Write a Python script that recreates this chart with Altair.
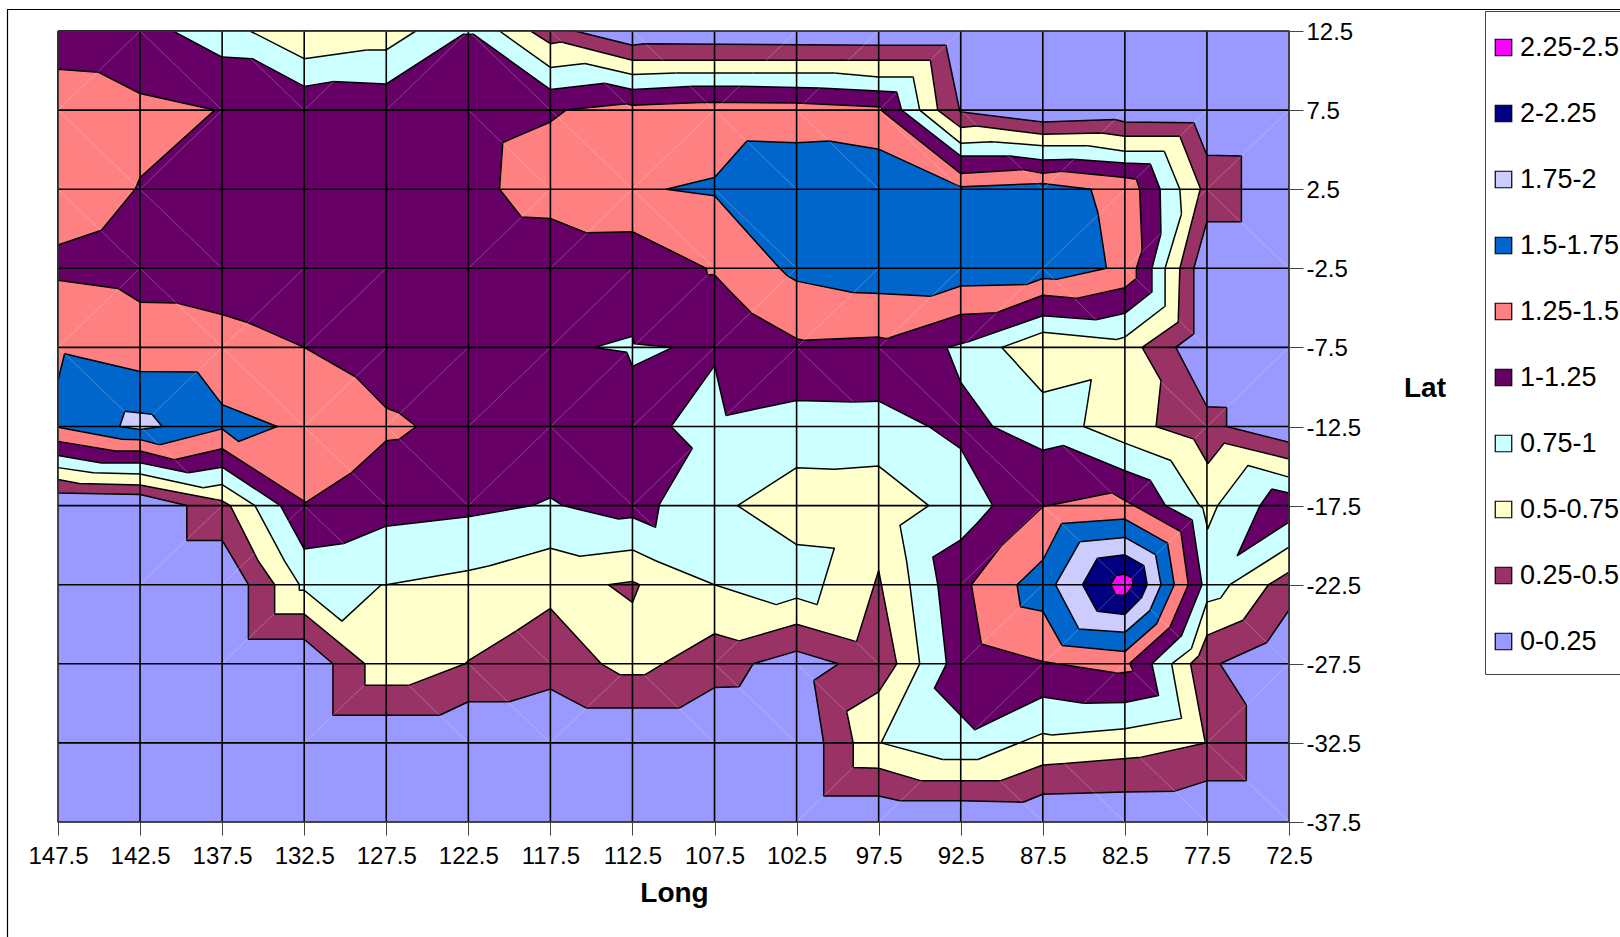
import altair as alt
import pandas as pd

# Contour bands of a gridded field over longitude / latitude, lower bands first.
BANDS = ["2.25-2.5", "2-2.25", "1.75-2", "1.5-1.75", "1.25-1.5", "1-1.25", "0.75-1", "0.5-0.75", "0.25-0.5", "0-0.25"]
BAND_COLOURS = ["#FF00FF", "#000080", "#CCCCFF", "#0066CC", "#FF8080", "#660066", "#CCFFFF", "#FFFFCC", "#993366", "#9999FF"]
LONG_TICKS = [147.5, 142.5, 137.5, 132.5, 127.5, 122.5, 117.5, 112.5, 107.5, 102.5, 97.5, 92.5, 87.5, 82.5, 77.5, 72.5]
LAT_TICKS = [12.5, 7.5, 2.5, -2.5, -7.5, -12.5, -17.5, -22.5, -27.5, -32.5, -37.5]

FULL_AREA = [(147.5, 12.5), (72.5, 12.5), (72.5, -37.5), (147.5, -37.5)]

ABOVE_025 = [(147.5, 12.5), (116.0, 12.5), (112.5, 11.6), (111.8, 11.7), (97.5, 11.6), (93.4, 11.6), (92.55, 7.4),
    (87.5, 6.75), (83.1, 6.9), (82.5, 6.75), (78.3, 6.7), (77.5, 4.65), (75.4, 4.6), (75.4, 0.45), (77.5, 0.45),
    (78.3, -2.5), (78.3, -6.65), (79.4, -7.5), (77.5, -11.25), (76.3, -11.3), (76.3, -12.5), (72.5, -13.5),
    (72.5, -24.1), (73.85, -26.15), (76.7, -27.5), (75.1, -30.1), (75.1, -34.9), (77.5, -34.9), (79.45, -35.55),
    (82.5, -35.6), (87.5, -35.75), (88.7, -36.25), (92.5, -36.15), (96.2, -36.15), (97.5, -35.85), (100.85, -35.85),
    (100.85, -32.5), (101.45, -28.55), (99.95, -27.5), (102.5, -26.7), (105.15, -27.5), (106.0, -28.95), (107.5, -29.0),
    (109.65, -30.3), (115.3, -30.3), (117.5, -29.1), (120.0, -29.9), (122.5, -29.9), (124.25, -30.75), (130.75, -30.75),
    (130.75, -27.5), (132.5, -25.95), (135.9, -25.95), (135.9, -22.5), (136.75, -21.0), (137.5, -19.7), (139.65, -19.7),
    (139.65, -17.5), (142.5, -16.8), (147.5, -16.7)]

ABOVE_050 = [(147.5, 12.5), (118.7, 12.5), (117.5, 11.7), (116.85, 11.8), (112.5, 10.65), (97.5, 10.65), (94.35, 10.65),
    (93.9, 7.5), (92.5, 6.4), (91.55, 6.5), (87.5, 5.97), (83.9, 6.05), (82.5, 5.85), (79.15, 5.85), (77.9, 2.55),
    (79.15, -2.5), (79.25, -5.9), (81.45, -7.5), (80.3, -9.6), (80.6, -12.5), (78.3, -13.3), (77.45, -14.85),
    (76.45, -13.55), (72.5, -14.55), (72.5, -21.7), (73.75, -22.5), (75.3, -24.75), (77.5, -25.7), (78.0, -27.0),
    (78.5, -27.5), (77.6, -32.5), (81.5, -33.4), (86.15, -33.8), (87.5, -33.9), (90.1, -34.9), (94.9, -34.9),
    (97.5, -34.1), (99.05, -34.05), (99.05, -32.5), (99.45, -30.5), (97.5, -29.27), (96.4, -27.5), (97.5, -21.6),
    (98.85, -26.1), (102.5, -25.0), (106.0, -26.05), (107.5, -25.6), (110.65, -27.5), (111.75, -28.2), (113.25, -28.2),
    (114.4, -27.5), (117.5, -24.0), (119.55, -25.4), (122.5, -27.3), (122.7, -27.5), (126.1, -28.85), (128.8, -28.85),
    (128.8, -27.5), (132.5, -24.35), (134.3, -24.35), (134.3, -22.5), (135.3, -21.0), (137.0, -17.5), (137.5, -17.2),
    (142.5, -16.2), (146.2, -16.1), (147.5, -15.85)]

LOW_POCKET = [(113.98, -22.5), (112.5, -22.29), (112.07, -22.5), (112.5, -23.62)]

ABOVE_075 = [(147.5, 12.5), (135.8, 12.5), (132.5, 10.75), (128.7, 11.3), (127.5, 11.3), (125.7, 12.5), (120.6, 12.5),
    (117.5, 10.2), (115.4, 10.45), (112.5, 9.75), (109.85, 9.85), (100.2, 9.85), (97.5, 9.6), (95.4, 9.6), (95.0, 7.5),
    (92.5, 5.4), (90.6, 5.5), (87.5, 5.25), (84.75, 5.25), (82.5, 4.9), (80.1, 4.9), (79.15, 2.5), (79.05, 0.95),
    (80.05, -2.5), (80.05, -4.9), (82.5, -6.85), (83.0, -7.0), (87.5, -6.55), (90.0, -7.5), (87.5, -10.35),
    (84.55, -9.55), (85.0, -12.5), (82.5, -13.55), (79.7, -14.65), (77.95, -17.5), (77.75, -17.65), (77.45, -18.97),
    (76.85, -17.5), (75.0, -14.96), (72.5, -15.7), (72.5, -20.13), (76.1, -22.5), (76.67, -23.35), (77.5, -23.6),
    (78.45, -26.55), (79.65, -27.5), (79.05, -30.95), (82.5, -31.6), (86.95, -32.0), (87.5, -31.9), (91.45, -33.55),
    (93.6, -33.55), (97.35, -32.5), (95.0, -27.5), (95.6, -22.5), (95.8, -21.0), (96.2, -18.75), (94.45, -17.5),
    (97.5, -15.0), (100.2, -15.2), (102.5, -15.1), (106.1, -17.5), (102.5, -19.96), (100.2, -20.2), (101.25, -23.76),
    (102.5, -23.35), (103.75, -23.76), (107.5, -22.5), (111.05, -21.0), (112.5, -20.3), (115.7, -20.7), (117.5, -20.2),
    (121.2, -21.3), (122.5, -21.6), (127.5, -22.5), (127.8, -22.5), (130.2, -24.8), (132.5, -22.85), (132.8, -22.85),
    (132.8, -22.5), (133.7, -21.0), (135.5, -17.5), (137.5, -16.17), (138.65, -16.37), (142.5, -15.5), (145.35, -15.43),
    (147.5, -15.1)]

ABOVE_100 = [(147.5, 12.5), (140.5, 12.5), (137.5, 10.85), (135.65, 10.75), (132.5, 9.0), (130.75, 9.3), (127.5, 9.15),
    (122.8, 12.3), (122.2, 12.3), (117.5, 8.8), (114.2, 9.2), (112.5, 8.8), (108.8, 9.0), (106.0, 9.0), (101.1, 8.9),
    (97.5, 8.7), (96.4, 8.65), (96.1, 7.5), (92.5, 4.6), (89.5, 4.6), (87.5, 4.35), (85.65, 4.4), (82.5, 4.15),
    (80.95, 4.1), (80.35, 2.5), (80.3, -0.3), (80.85, -2.5), (80.85, -4.0), (82.5, -5.35), (84.25, -5.75), (87.5, -5.5),
    (92.05, -7.15), (93.35, -7.5), (92.5, -9.7), (90.55, -12.5), (87.5, -14.0), (86.25, -13.7), (82.5, -15.3),
    (80.95, -15.9), (80.02, -17.5), (78.4, -18.4), (77.8, -22.5), (79.05, -25.72), (80.85, -27.5), (80.45, -29.5),
    (82.5, -29.95), (85.0, -30.0), (87.5, -29.6), (91.65, -31.67), (94.1, -29.04), (93.37, -27.5), (93.9, -22.5),
    (94.2, -20.76), (92.5, -19.67), (91.45, -18.55), (90.55, -17.5), (92.5, -13.9), (94.45, -12.5), (97.5, -10.9),
    (99.05, -10.95), (102.5, -10.85), (106.8, -11.8), (107.5, -8.65), (110.15, -12.5), (108.85, -13.87), (110.85, -17.4),
    (111.1, -18.87), (112.5, -18.25), (113.35, -18.35), (116.75, -17.5), (117.5, -17.0), (118.6, -17.5), (122.5, -18.2),
    (127.5, -18.8), (130.1, -19.9), (132.5, -20.25), (133.95, -17.5), (137.5, -15.07), (139.55, -15.43), (142.5, -14.8),
    (144.85, -14.8), (147.5, -14.33)]

ABOVE_100_EAST = [(73.55, -16.45), (72.5, -16.7), (72.5, -18.55), (75.65, -20.66), (74.27, -17.5)]

MID_POCKET = [(114.8, -7.5), (112.5, -6.8), (112.4, -7.27), (110.05, -7.5), (112.5, -8.7), (112.85, -7.8)]

ABOVE_125_NORTHWEST = [(147.5, 10.08), (145.05, 9.9), (142.5, 8.55), (137.95, 7.5), (142.5, 3.24), (142.8, 2.5),
    (144.85, -0.09), (147.5, -1.03)]

ABOVE_125_WEST = [(147.5, -3.25), (143.85, -3.77), (142.5, -4.64), (140.25, -4.7), (137.5, -5.42), (135.9, -5.94),
    (132.5, -7.5), (129.35, -9.37), (127.5, -11.33), (126.7, -11.65), (125.67, -12.5), (126.7, -13.3), (127.5, -13.4),
    (129.63, -15.43), (132.4, -17.3), (137.5, -13.9), (140.4, -14.6), (142.5, -14.05), (144.0, -14.05), (147.5, -13.44)]

ABOVE_125_CENTRE = [(120.6, 2.5), (120.4, 5.45), (117.5, 6.75), (116.55, 7.5), (112.9, 7.9), (112.5, 7.8), (108.0, 8.0),
    (102.5, 7.95), (97.35, 7.7), (97.3, 7.45), (92.5, 3.49), (88.7, 3.74), (87.5, 3.5), (86.35, 3.64), (82.5, 3.24),
    (81.8, 3.13), (81.6, 2.5), (81.45, -1.35), (81.8, -2.5), (81.8, -3.14), (82.5, -3.73), (85.45, -4.4), (87.5, -4.2),
    (90.33, -5.31), (92.5, -5.42), (97.03, -6.95), (97.5, -6.85), (102.1, -7.05), (102.5, -6.95), (105.25, -5.33),
    (106.6, -3.9), (107.5, -2.93), (107.95, -2.89), (108.0, -2.5), (112.5, -0.19), (115.3, -0.26), (117.5, 0.65),
    (119.27, 0.75)]

ABOVE_125_PEAK = [(87.5, -17.57), (83.3, -16.69), (82.1, -17.4), (79.09, -19.15), (78.64, -22.5), (79.76, -25.2),
    (82.2, -27.47), (82.0, -27.97), (82.9, -28.1), (87.5, -27.36), (91.24, -26.25), (91.85, -22.5), (90.02, -20.03)]

ABOVE_150_WEST = [(147.5, -9.58), (147.1, -7.9), (142.5, -9.02), (139.0, -9.06), (137.5, -11.12), (134.15, -12.5),
    (136.5, -13.45), (137.5, -12.65), (141.3, -13.65), (142.5, -13.33), (143.6, -13.3), (147.5, -12.55)]

ABOVE_150_CENTRE = [(110.45, 2.5), (107.5, 3.24), (105.53, 5.55), (102.5, 5.43), (100.53, 5.55), (97.5, 5.03), (92.5, 2.65),
    (87.5, 2.86), (84.57, 2.5), (84.13, 0.96), (83.62, -2.5), (86.67, -3.2), (87.5, -3.14), (88.5, -3.52), (92.5, -3.62),
    (94.3, -4.26), (97.5, -4.09), (99.07, -4.03), (102.5, -3.31), (103.03, -3.0), (103.53, -2.5), (107.5, 2.08)]

ABOVE_150_PEAK = [(89.07, -22.5), (87.5, -20.94), (86.36, -18.63), (82.5, -18.35), (79.9, -19.87), (79.49, -22.5),
    (80.57, -24.98), (82.5, -26.73), (86.32, -26.35), (87.5, -24.18), (88.86, -23.89)]

ABOVE_175_WEST = [(143.43, -11.54), (141.77, -11.73), (141.16, -12.5), (142.5, -12.69), (143.74, -12.5)]

ABOVE_175_PEAK = [(86.73, -22.5), (85.24, -19.78), (82.5, -19.51), (80.63, -20.6), (80.3, -22.5), (80.98, -24.14),
    (82.5, -25.51), (85.3, -25.3)]

ABOVE_200_PEAK = [(85.08, -22.5), (84.17, -20.82), (82.5, -20.61), (81.34, -21.3), (81.14, -22.5), (81.48, -23.3),
    (82.5, -24.39), (84.19, -24.18)]

ABOVE_225_PEAK = [(83.37, -22.5), (83.05, -21.93), (82.5, -21.83), (82.05, -22.08), (81.99, -22.5), (82.3, -22.98),
    (82.5, -23.19), (83.05, -23.13)]

# Painting order: each region covers the band below it.
REGIONS = [
    ("0-0.25", FULL_AREA), ("0.25-0.5", ABOVE_025), ("0.5-0.75", ABOVE_050), ("0.25-0.5", LOW_POCKET),
    ("0.75-1", ABOVE_075), ("1-1.25", ABOVE_100), ("1-1.25", ABOVE_100_EAST), ("0.75-1", MID_POCKET),
    ("1.25-1.5", ABOVE_125_NORTHWEST), ("1.25-1.5", ABOVE_125_WEST), ("1.25-1.5", ABOVE_125_CENTRE), ("1.25-1.5", ABOVE_125_PEAK),
    ("1.5-1.75", ABOVE_150_WEST), ("1.5-1.75", ABOVE_150_CENTRE), ("1.5-1.75", ABOVE_150_PEAK),
    ("1.75-2", ABOVE_175_WEST), ("1.75-2", ABOVE_175_PEAK), ("2-2.25", ABOVE_200_PEAK), ("2.25-2.5", ABOVE_225_PEAK),
]

# Triangle seams of the surface grid: top latitude of a cell row -> western longitudes of its cells.
SEAMS_RISING = {
    12.5: [147.5, 132.5, 127.5, 107.5, 102.5, 97.5], 7.5: [142.5, 112.5, 87.5, 82.5, 77.5], 2.5: [122.5, 117.5, 87.5, 82.5],
    -2.5: [147.5, 137.5, 132.5, 117.5, 112.5, 107.5, 102.5, 97.5, 92.5],
    -7.5: [142.5, 132.5, 127.5, 122.5, 117.5, 112.5, 107.5, 77.5], -12.5: [122.5, 112.5, 82.5],
    -17.5: [142.5, 137.5, 92.5, 82.5], -22.5: [137.5, 107.5, 92.5, 87.5], -27.5: [132.5, 117.5, 92.5, 87.5, 77.5],
    -32.5: [102.5, 97.5],
}
SEAMS_FALLING = {
    12.5: [142.5, 137.5, 122.5, 117.5, 112.5], 7.5: [147.5, 122.5, 117.5, 107.5, 102.5, 97.5, 92.5],
    2.5: [147.5, 142.5, 112.5, 107.5, 77.5], -2.5: [142.5, 87.5, 82.5], -7.5: [147.5, 137.5, 102.5, 97.5, 92.5, 82.5],
    -12.5: [142.5, 132.5, 127.5, 117.5, 92.5, 87.5], -17.5: [132.5, 112.5, 87.5], -22.5: [122.5, 102.5, 82.5, 77.5],
    -27.5: [127.5, 122.5, 112.5, 107.5, 102.5, 82.5], -32.5: [92.5, 87.5, 82.5, 77.5],
}

FONT = "Liberation Sans"
W, H = 1231, 791
LEFT, TOP = 58, 31

x_scale = alt.Scale(domain=[147.5, 72.5], nice=False, zero=False)
y_scale = alt.Scale(domain=[-37.5, 12.5], nice=False, zero=False)
fill_scale = alt.Scale(domain=BANDS, range=BAND_COLOURS)

x_axis = alt.Axis(values=LONG_TICKS, grid=False, domain=False, tickSize=13, tickColor="#444444", tickWidth=1,
                  labelExpr="'' + datum.value", labelFont=FONT, labelFontSize=24, labelColor="black", labelPadding=9,
                  labelOverlap=False, labelFlush=False, title="Long", titleFont=FONT, titleFontSize=28, titleFontWeight="bold",
                  titleColor="black", titleX=616, titleY=71, titleAlign="center", titleBaseline="middle")
y_axis = alt.Axis(values=LAT_TICKS, orient="right", grid=False, domain=False, tickSize=14, tickColor="#444444", tickWidth=1,
                  labelExpr="'' + datum.value", labelFont=FONT, labelFontSize=24, labelColor="black", labelPadding=3,
                  labelOffset=1.5, labelOverlap=False, labelFlush=False, title="Lat", titleFont=FONT, titleFontSize=28,
                  titleFontWeight="bold", titleColor="black", titleAngle=0, titleX=135.5, titleY=357, titleAlign="center",
                  titleBaseline="middle")
legend = alt.Legend(title=None, orient="none", legendX=1490 - LEFT, legendY=34 - TOP, padding=0, symbolType="square",
                    symbolSize=272, symbolStrokeColor="black", symbolStrokeWidth=1.2, labelFont=FONT, labelFontSize=27,
                    labelColor="black", labelOffset=3, rowPadding=38, labelLimit=200)


def region_layer(band, vertices):
    ring = list(vertices) + [vertices[0]]
    table = pd.DataFrame({"long": [p[0] for p in ring], "lat": [p[1] for p in ring], "step": range(len(ring)), "band": band})
    return alt.Chart(table).mark_line(stroke="black", strokeWidth=1.5, strokeJoin="round", interpolate="linear").encode(
        x=alt.X("long:Q", scale=x_scale, axis=x_axis),
        y=alt.Y("lat:Q", scale=y_scale, axis=y_axis),
        fill=alt.Fill("band:N", scale=fill_scale, legend=legend),
        order=alt.Order("step:Q"),
    )


seam_rows = []
for top_lat, cells in SEAMS_RISING.items():
    seam_rows += [{"x1": c, "y1": top_lat - 5, "x2": c - 5, "y2": top_lat} for c in cells]
for top_lat, cells in SEAMS_FALLING.items():
    seam_rows += [{"x1": c, "y1": top_lat, "x2": c - 5, "y2": top_lat - 5} for c in cells]

seams = alt.Chart(pd.DataFrame(seam_rows)).mark_rule(color="white", opacity=0.25, strokeWidth=1).encode(
    x=alt.X("x1:Q", scale=x_scale), x2="x2:Q", y=alt.Y("y1:Q", scale=y_scale), y2="y2:Q")

inner_long = pd.DataFrame({"long": LONG_TICKS[1:-1]})
inner_lat = pd.DataFrame({"lat": LAT_TICKS[1:-1]})
edge_long = pd.DataFrame({"long": [LONG_TICKS[0], LONG_TICKS[-1]]})
edge_lat = pd.DataFrame({"lat": [LAT_TICKS[0], LAT_TICKS[-1]]})

grid_v = alt.Chart(inner_long).mark_rule(color="black", strokeWidth=1.6).encode(x=alt.X("long:Q", scale=x_scale))
grid_h = alt.Chart(inner_lat).mark_rule(color="black", strokeWidth=1.6).encode(y=alt.Y("lat:Q", scale=y_scale))
edge_v = alt.Chart(edge_long).mark_rule(color="#555555", strokeWidth=1).encode(x=alt.X("long:Q", scale=x_scale))
edge_h = alt.Chart(edge_lat).mark_rule(color="#555555", strokeWidth=1).encode(y=alt.Y("lat:Q", scale=y_scale))

# Chart frame and legend box around the plot.
frame_top = alt.Chart().mark_rule(color="black", strokeWidth=1.2).encode(
    x=alt.value(7 - LEFT), x2=alt.value(1640 - LEFT), y=alt.value(9.5 - TOP))
frame_left = alt.Chart().mark_rule(color="black", strokeWidth=1.2).encode(
    x=alt.value(7.5 - LEFT), y=alt.value(9.5 - TOP), y2=alt.value(960 - TOP))
legend_box = alt.Chart().mark_rect(fill="white", stroke="#444444", strokeWidth=1).encode(
    x=alt.value(1485.5 - LEFT), x2=alt.value(1660 - LEFT), y=alt.value(11.5 - TOP), y2=alt.value(674.5 - TOP))

layers = [frame_top, frame_left, legend_box] + [region_layer(b, v) for b, v in REGIONS] + [seams, grid_v, grid_h, edge_v, edge_h]

chart = alt.layer(*layers).resolve_scale(x="shared", y="shared", fill="shared").properties(
    width=W, height=H, background="white",
    padding={"left": LEFT, "top": TOP, "right": 1620 - LEFT - W, "bottom": 937 - TOP - H},
    autosize=alt.AutoSizeParams(type="none"),
).configure_view(stroke=None)

chart.save("out.html", embed_options={"renderer": "svg", "actions": False})
